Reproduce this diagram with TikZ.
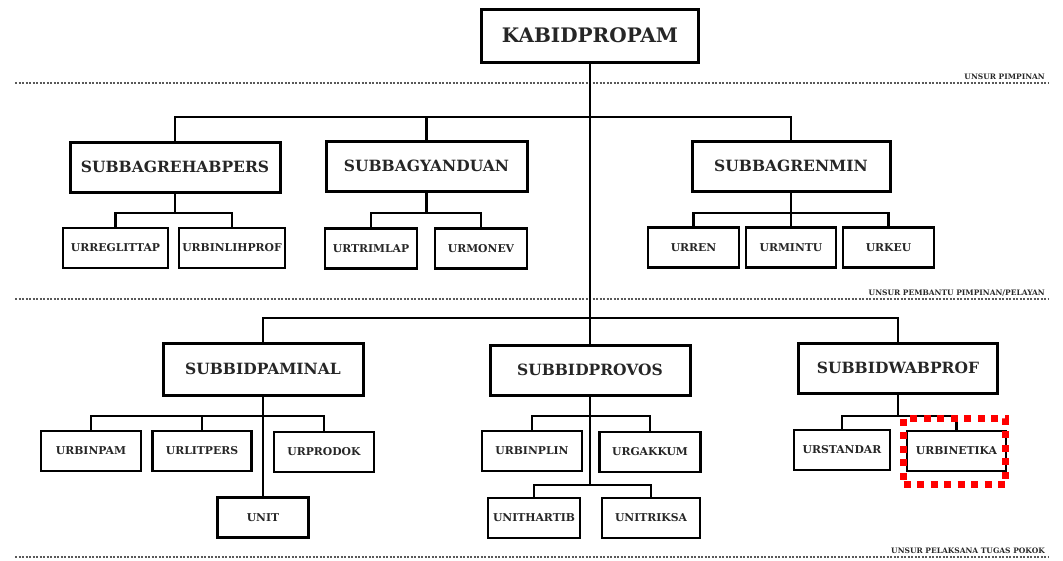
\documentclass[tikz,border=0pt]{standalone}
\usepackage{fontspec}
\setmainfont{DejaVu Serif}
\usepackage{tikz}
\usetikzlibrary{positioning,calc}
\tikzstyle{headbox}=[draw,line width=3pt,inner sep=0pt,minimum height=53pt,font=\bfseries\fontsize{20}{24}\selectfont]
\tikzstyle{subbox}=[draw,line width=3pt,inner sep=0pt,minimum height=50pt,font=\bfseries\fontsize{15.5}{18}\selectfont]
\tikzstyle{urbox}=[draw,line width=2.6pt,inner sep=0pt,minimum height=40pt,font=\bfseries\fontsize{10.8}{13}\selectfont]
\tikzstyle{link}=[line width=2.2pt]
\tikzstyle{sepline}=[line width=2pt,black!65,dash pattern=on 2pt off 1.5pt]
\tikzstyle{seplabel}=[anchor=south east,inner sep=1pt,font=\bfseries\fontsize{7.5}{9}\selectfont]
\tikzstyle{hilite}=[draw=red,line width=7pt,dash pattern=on 7pt off 6.5pt,minimum width=102pt,minimum height=66pt]

\begin{document}
\begin{tikzpicture}[x=1pt,y=-1pt,text=black!85]
\useasboundingbox (0,0) rectangle (1063,560);

% separators
\draw[sepline] (15,83) -- (1048,83);
\draw[sepline] (15,299) -- (1048,299);
\draw[sepline] (15,557) -- (1048,557);
\node[seplabel] (lpimpinan) at (1046,81) {UNSUR PIMPINAN};
\node[seplabel] (lpembantu) at (1046,297) {UNSUR PEMBANTU PIMPINAN/PELAYAN};
\node[seplabel] (lpelaksana) at (1046,555) {UNSUR PELAKSANA TUGAS POKOK};

% boxes
\node[headbox,minimum width=217pt] (kabid) at (590,35.5) {KABIDPROPAM};

\node[subbox,minimum width=210pt] (rehab) at (175,167) {SUBBAGREHABPERS};
\node[subbox,minimum width=201pt] (yanduan) at (426.5,166) {SUBBAGYANDUAN};
\node[subbox,minimum width=198pt] (renmin) at (791,166) {SUBBAGRENMIN};

\node[urbox,minimum width=105pt] (reglittap) at (115.5,248) {URREGLITTAP};
\node[urbox,minimum width=106pt] (binlihprof) at (232,248) {URBINLIHPROF};
\node[urbox,minimum width=92pt] (trimlap) at (371,248.5) {URTRIMLAP};
\node[urbox,minimum width=92pt] (monev) at (481,248.5) {URMONEV};
\node[urbox,minimum width=91pt] (urren) at (693.5,247.5) {URREN};
\node[urbox,minimum width=90pt] (mintu) at (791,247.5) {URMINTU};
\node[urbox,minimum width=91pt] (keu) at (888.5,247.5) {URKEU};

\node[subbox,minimum width=200pt,minimum height=52pt] (paminal) at (263,369) {SUBBIDPAMINAL};
\node[subbox,minimum width=200pt] (provos) at (590,370) {SUBBIDPROVOS};
\node[subbox,minimum width=199pt] (wabprof) at (898,368) {SUBBIDWABPROF};

\node[urbox,minimum width=100pt] (binpam) at (91,451) {URBINPAM};
\node[urbox,minimum width=99pt] (litpers) at (202,451) {URLITPERS};
\node[urbox,minimum width=100pt] (prodok) at (324,452) {URPRODOK};
\node[urbox,minimum width=91pt] (unit) at (263,517.5) {UNIT};
\node[urbox,minimum width=100pt] (binplin) at (532,451) {URBINPLIN};
\node[urbox,minimum width=101pt] (gakkum) at (650,452) {URGAKKUM};
\node[urbox,minimum width=92pt] (hartib) at (534,518) {UNITHARTIB};
\node[urbox,minimum width=98pt] (triksa) at (651,518) {UNITRIKSA};
\node[urbox,minimum width=96pt] (standar) at (842,450) {URSTANDAR};
\node[urbox,minimum width=99pt] (binetika) at (956.5,451) {URBINETIKA};

% bus levels
\coordinate (top) at (590,117);
\coordinate (b2) at (0,213);
\coordinate (mid) at (590,318);
\coordinate (b4) at (0,416);
\coordinate (b5) at (0,485);

% connectors
\draw[link] (kabid.south) -- (provos.north);
\draw[link] (rehab.north) |- (top) -| (renmin.north);
\draw[link] (yanduan.north) -- (yanduan.north |- top);
\draw[link] (paminal.north) |- (mid) -| (wabprof.north);

\draw[link] (rehab.south) -- (rehab.south |- b2);
\draw[link] (reglittap.north) |- (rehab.south |- b2) -| (binlihprof.north);
\draw[link] (yanduan.south) -- (yanduan.south |- b2);
\draw[link] (trimlap.north) |- (yanduan.south |- b2) -| (monev.north);
\draw[link] (urren.north) |- (renmin.south |- b2) -| (keu.north);
\draw[link] (renmin.south) -- (mintu.north);

\draw[link] (paminal.south) -- (unit.north);
\draw[link] (binpam.north) |- (paminal.south |- b4) -| (prodok.north);
\draw[link] (litpers.north) -- (litpers.north |- b4);
\draw[link] (provos.south) -- (provos.south |- b5);
\draw[link] (binplin.north) |- (provos.south |- b4) -| (gakkum.north);
\draw[link] (hartib.north) |- (provos.south |- b5) -| (triksa.north);
\draw[link] (wabprof.south) -- (wabprof.south |- b4);
\draw[link] (standar.north) |- (wabprof.south |- b4) -| (binetika.north);

% highlight
\node[hilite] (focus) at (954.5,451.5) {};
\end{tikzpicture}
\end{document}
